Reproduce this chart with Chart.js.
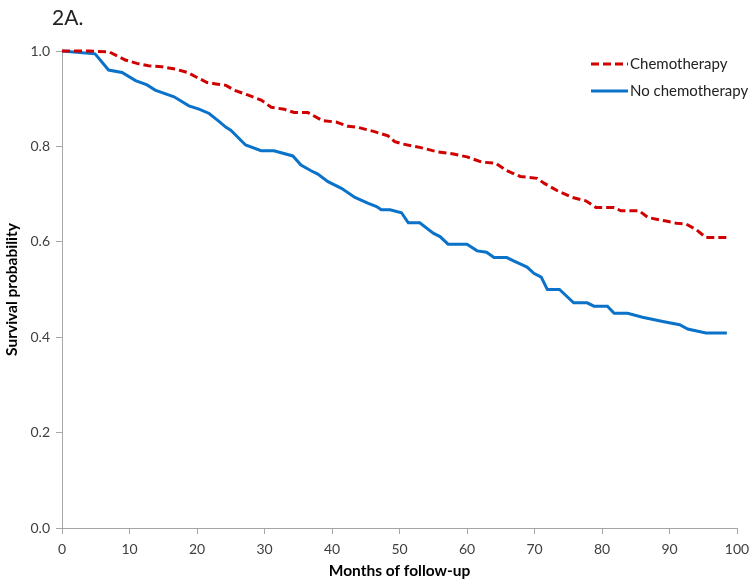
<!DOCTYPE html>
<html>
<head>
<meta charset="utf-8">
<script src="https://cdn.jsdelivr.net/npm/chart.js@4.4.1/dist/chart.umd.min.js"></script>
<style>
    body { margin: 0; background: #fff; }
    canvas { display: block; }
</style>
</head>
<body>
<canvas id="survival" width="751" height="584"></canvas>
<script>
// 读自图片的数据 (月份, 生存概率)
const chemoMonths = [0, 4, 7, 9.4, 11.1, 12.8, 14.8, 16.8, 18.6, 19.8, 21.5, 22.8, 24.3, 25.5, 27.5, 29.5, 31, 32.9, 34.4, 36.4,
    38.6, 40.6, 42.4, 43.8, 46.3, 48.3, 49.3, 50.5, 53, 55.5, 58, 60, 62.2, 64.2, 65.9, 67.9, 70.4, 71.4, 73.4, 75.6,
    77.6, 79.1, 81.8, 82.8, 85.5, 86.8, 89.3, 91, 92.5, 94, 95.4, 98.5];
const chemoSurv = [1.0, 1.0, 0.998, 0.981, 0.974, 0.969, 0.967, 0.962, 0.955, 0.946, 0.934, 0.931, 0.928, 0.918, 0.908, 0.897, 0.882, 0.878, 0.871, 0.871,
    0.854, 0.851, 0.842, 0.84, 0.831, 0.822, 0.81, 0.805, 0.798, 0.789, 0.784, 0.778, 0.767, 0.765, 0.749, 0.737, 0.733, 0.723, 0.707, 0.693,
    0.686, 0.672, 0.672, 0.665, 0.665, 0.651, 0.644, 0.639, 0.637, 0.625, 0.609, 0.609];

const noChemoMonths = [0, 4.9, 6.9, 8.9, 10.9, 12.6, 13.8, 16.6, 18.8, 20.3, 21.8, 23.3, 24.3, 25, 27.2, 29.5, 31.4, 34.2, 35.4, 36.9,
    37.9, 39.4, 41.4, 43.4, 45.3, 46.6, 47.3, 48.6, 50.3, 51.3, 53, 55, 56, 57.2, 60, 61.5, 62.9, 64, 65.9, 66.9,
    68.9, 69.9, 71, 71.9, 73.7, 75.8, 77.8, 78.8, 80.8, 81.8, 83.8, 86, 89, 91.5, 92.7, 95.4, 98.5];
const noChemoSurv = [1.0, 0.994, 0.96, 0.955, 0.938, 0.929, 0.918, 0.904, 0.885, 0.878, 0.869, 0.852, 0.84, 0.834, 0.803, 0.791, 0.791, 0.78, 0.761, 0.749,
    0.742, 0.726, 0.712, 0.693, 0.681, 0.674, 0.667, 0.667, 0.661, 0.64, 0.64, 0.618, 0.611, 0.595, 0.595, 0.581, 0.578, 0.567, 0.567, 0.56,
    0.547, 0.534, 0.526, 0.5, 0.5, 0.472, 0.472, 0.465, 0.465, 0.45, 0.45, 0.442, 0.433, 0.426, 0.417, 0.409, 0.409];

const seriesLabels = ['Chemotherapy', 'No chemotherapy'];
const panelTitle = '2A.';
const xTitle = 'Months of follow-up';
const yTitle = 'Survival probability';

const FONT = 'Lato, "Open Sans", sans-serif';
const AXIS_GREY = '#a6a6a6';

function toPoints(xs, ys) {
    return xs.map((x, i) => ({x: x, y: ys[i]}));
}

// 标题和图例直接画在画布上
const overlayPlugin = {
    id: 'overlay',
    afterDraw(chart) {
        const ctx = chart.ctx;
        ctx.save();
        ctx.fillStyle = '#222';
        ctx.font = '21px ' + FONT;
        ctx.textBaseline = 'middle';
        ctx.textAlign = 'left';
        ctx.fillText(panelTitle, 52, 18);

        const rows = [64, 91];
        chart.data.datasets.forEach((ds, i) => {
            const y = rows[i];
            ctx.beginPath();
            ctx.strokeStyle = ds.borderColor;
            ctx.lineWidth = ds.borderWidth;
            ctx.setLineDash(ds.borderDash || []);
            ctx.moveTo(591, y);
            ctx.lineTo(628, y);
            ctx.stroke();
            ctx.setLineDash([]);
            ctx.fillStyle = '#222';
            ctx.font = '15px ' + FONT;
            ctx.fillText(ds.label, 630, y);
        });
        ctx.restore();
    }
};

const survivalCtx = document.getElementById('survival').getContext('2d');
const survivalChart = new Chart(survivalCtx, {
    type: 'line',
    data: {
        datasets: [{
            label: seriesLabels[0],
            data: toPoints(chemoMonths, chemoSurv),
            borderColor: '#d00000',
            borderWidth: 3,
            borderDash: [8, 4],
            pointRadius: 0,
            fill: false,
            tension: 0,
            clip: 6
        }, {
            label: seriesLabels[1],
            data: toPoints(noChemoMonths, noChemoSurv),
            borderColor: '#0a72c8',
            borderWidth: 3,
            pointRadius: 0,
            fill: false,
            tension: 0,
            clip: 6
        }]
    },
    options: {
        responsive: false,
        animation: false,
        layout: {padding: {top: 51, right: 14, left: 0, bottom: 0}},
        plugins: {
            legend: {display: false},
            tooltip: {enabled: false}
        },
        scales: {
            x: {
                type: 'linear',
                min: 0,
                max: 100,
                border: {color: AXIS_GREY, width: 1},
                grid: {drawOnChartArea: false, tickLength: 6, color: AXIS_GREY},
                ticks: {stepSize: 10, padding: 7, color: '#404040', font: {family: FONT, size: 14}},
                title: {display: true, text: xTitle, color: '#000', font: {family: FONT, size: 15.5, weight: 'bold'}, padding: {top: 2, bottom: 4}},
                afterFit(scale) {
                    scale.height = 56;
                    scale.paddingLeft = 0;
                    scale.paddingRight = 0;
                }
            },
            y: {
                min: 0,
                max: 1,
                border: {color: AXIS_GREY, width: 1},
                grid: {drawOnChartArea: false, tickLength: 6, color: AXIS_GREY},
                ticks: {stepSize: 0.2, padding: 6, color: '#404040', font: {family: FONT, size: 14},
                    callback: (v) => v.toFixed(1)},
                title: {display: true, text: yTitle, color: '#000', font: {family: FONT, size: 15.5, weight: 'bold'}, padding: {top: 3, bottom: 0}},
                afterFit(scale) {
                    scale.width = 62;
                    scale.paddingTop = 0;
                    scale.paddingBottom = 0;
                }
            }
        }
    },
    plugins: [overlayPlugin]
});
</script>
</body>
</html>
